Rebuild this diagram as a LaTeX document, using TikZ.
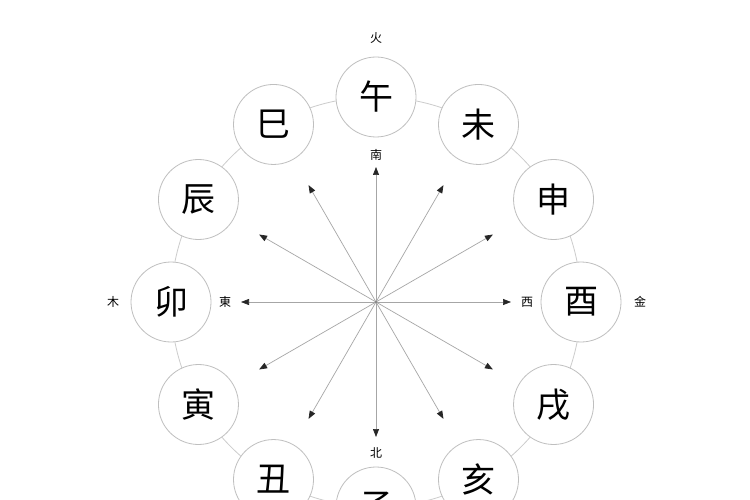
\documentclass[tikz,border=0pt]{standalone}
\usepackage{fontspec}
\newfontfamily\cjk{Noto Sans CJK SC}
\usetikzlibrary{arrows.meta,calc}
\begin{document}
\begin{tikzpicture}[x=1pt,y=-1pt,
  br/.style={circle,draw=black!25,line width=0.8pt,fill=white,minimum size=80pt,inner sep=0pt,font=\cjk\fontsize{34}{34}\selectfont},
  lab/.style={font=\cjk\fontsize{12}{12}\selectfont,inner sep=1pt},
  arr/.style={draw=black!35,line width=0.7pt,-{Triangle[length=8pt,width=6pt,fill=black!85,color=black!85]}}]
\useasboundingbox (0,0) rectangle (750,500);
\fill[white] (0,0) rectangle (750,500);
\coordinate (c) at (376,302);
\draw[black!20,line width=0.8pt] (c) circle (205);
\foreach \a in {0,30,...,330} {
  \coordinate (t\a) at ($(c)+({135*cos(\a)},{-135*sin(\a)})$);
  \draw[arr] (c) -- (t\a);
}
\fill[black!50] (c) circle (1.2);
\foreach \t/\a in {午/90,未/60,申/30,酉/0,戌/-30,亥/-60,子/-90,丑/-120,寅/-150,卯/180,辰/150,巳/120} {
  \node[br] (b\a) at ($(c)+({205*cos(\a)},{-205*sin(\a)})$) {\t};
}
\node[lab] (fire) at (376,38) {火};
\node[lab] (metal) at (640,302) {金};
\node[lab] (wood) at (113,302) {木};
\node[lab] (east) at (225,302) {東};
\node[lab] (west) at (527,302) {西};
\node[lab] (south) at (376,155) {南};
\node[lab] (north) at (376,453) {北};
\end{tikzpicture}
\end{document}
